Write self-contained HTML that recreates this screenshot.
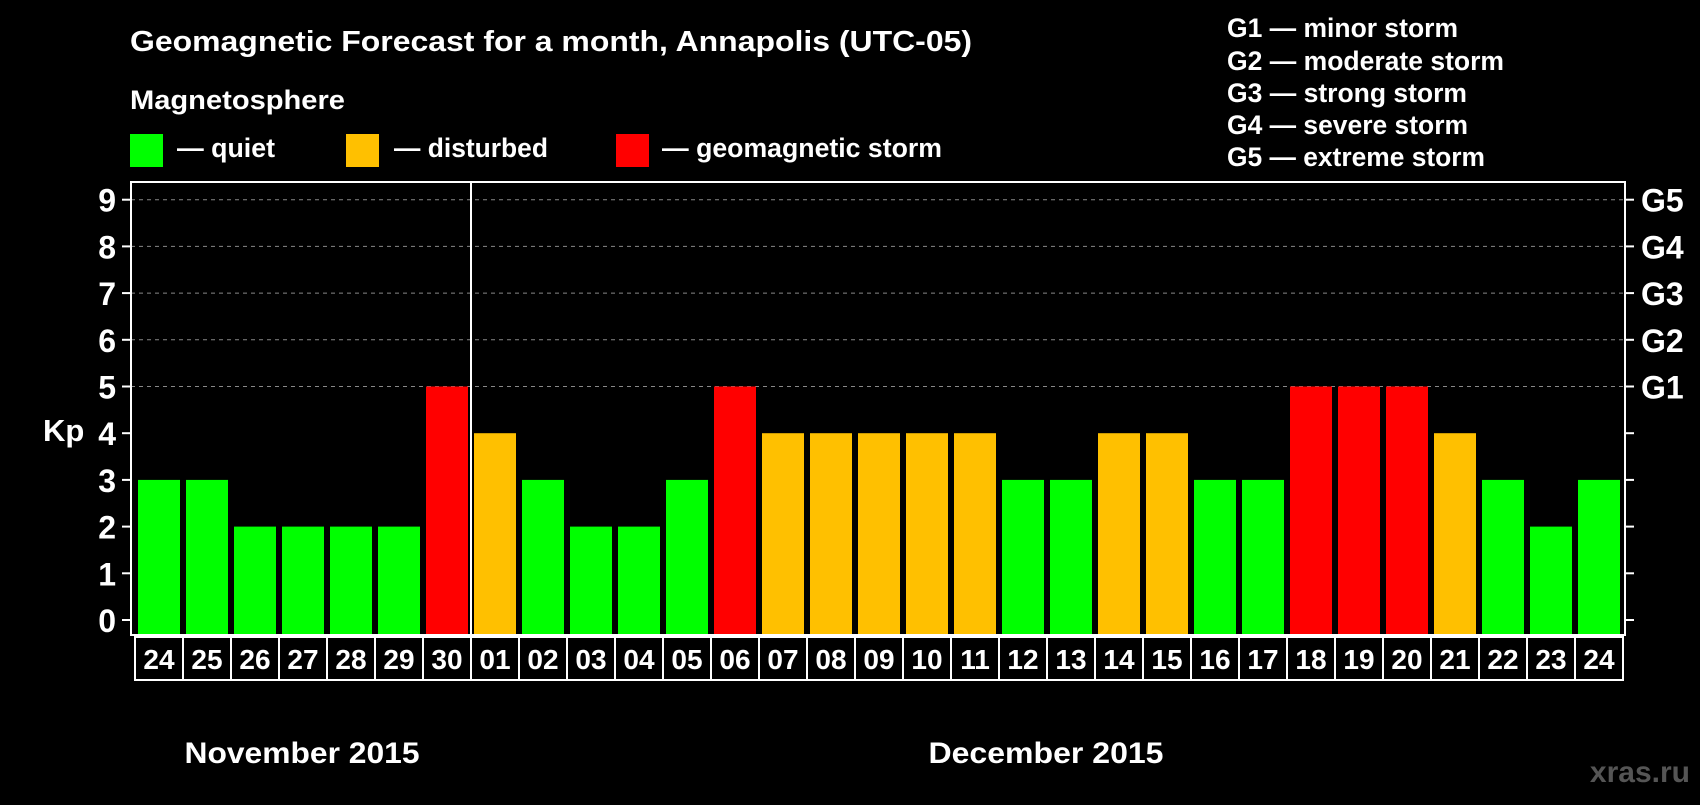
<!DOCTYPE html>
<html><head><meta charset="utf-8"><style>
body{margin:0;background:#000;width:1700px;height:800px;overflow:hidden;font-family:"Liberation Sans",Arial,sans-serif;}
svg text{font-family:"Liberation Sans",Arial,sans-serif;font-weight:bold;fill:#fff;}
</style></head><body>
<svg id="chart" width="1700" height="800" xmlns="http://www.w3.org/2000/svg">
<text x="130" y="51" font-size="29" textLength="842" lengthAdjust="spacingAndGlyphs">Geomagnetic Forecast for a month, Annapolis (UTC-05)</text>
<text x="130" y="109" font-size="27" textLength="215" lengthAdjust="spacingAndGlyphs">Magnetosphere</text>
<g><rect x="130" y="134" width="33" height="33" fill="#00ff00"/><text x="177" y="157" font-size="27" textLength="98" lengthAdjust="spacingAndGlyphs">— quiet</text></g>
<g><rect x="346" y="134" width="33" height="33" fill="#ffc000"/><text x="394" y="157" font-size="27" textLength="154" lengthAdjust="spacingAndGlyphs">— disturbed</text></g>
<g><rect x="616" y="134" width="33" height="33" fill="#ff0000"/><text x="662" y="157" font-size="27" textLength="280" lengthAdjust="spacingAndGlyphs">— geomagnetic storm</text></g>
<g font-size="27">
<text x="1227" y="37" textLength="231" lengthAdjust="spacingAndGlyphs">G1 — minor storm</text>
<text x="1227" y="70" textLength="277" lengthAdjust="spacingAndGlyphs">G2 — moderate storm</text>
<text x="1227" y="102" textLength="240" lengthAdjust="spacingAndGlyphs">G3 — strong storm</text>
<text x="1227" y="134" textLength="241" lengthAdjust="spacingAndGlyphs">G4 — severe storm</text>
<text x="1227" y="166" textLength="258" lengthAdjust="spacingAndGlyphs">G5 — extreme storm</text>
</g>
<g id="grid"></g>
<g id="bars"></g>
<g id="axes"></g>
<text x="43" y="441" font-size="31">Kp</text>
<text x="302" y="763" font-size="30" text-anchor="middle" textLength="235" lengthAdjust="spacingAndGlyphs">November 2015</text>
<text x="1046" y="763" font-size="30" text-anchor="middle" textLength="235" lengthAdjust="spacingAndGlyphs">December 2015</text>
<text x="1690" y="782" font-size="30" text-anchor="end" style="fill:#555">xras.ru</text>
</svg>
<script>
const days=["24","25","26","27","28","29","30","01","02","03","04","05","06","07","08","09","10","11","12","13","14","15","16","17","18","19","20","21","22","23","24"];
const kp=[3,3,2,2,2,2,5,4,3,2,2,3,5,4,4,4,4,4,3,3,4,4,3,3,5,5,5,4,3,2,3];
const yTicks=[0,1,2,3,4,5,6,7,8,9];
const gLabels=["G1","G2","G3","G4","G5"];
const NS="http://www.w3.org/2000/svg";
const L=131,R=1625,T=182,B=635,y0=620,unit=46.7,x0=138,pitch=48,bw=42;
const y=v=>y0-v*unit;
const x=i=>x0+i*pitch;
function mk(tag,attrs,parent){const e=document.createElementNS(NS,tag);for(const k in attrs)e.setAttribute(k,attrs[k]);parent.appendChild(e);return e;}
const grid=document.getElementById('grid'),bars=document.getElementById('bars'),axes=document.getElementById('axes');
for(let v=5;v<=9;v++){const l=mk('line',{x1:L,x2:R,y1:y(v),y2:y(v),stroke:'#888','stroke-width':1,'stroke-dasharray':'4,4'},grid);

}
function color(v){return v>=5?'#ff0000':(v===4?'#ffc000':'#00ff00');}
kp.forEach((v,i)=>{const r=mk('rect',{x:x(i),y:y(v),width:bw,height:B-y(v),fill:color(v)},bars);

});
const box=mk('rect',{x:L,y:T,width:R-L,height:B-T,fill:'none',stroke:'#fff','stroke-width':2},axes);


const sep=mk('line',{x1:x(7)-3,x2:x(7)-3,y1:T,y2:B,stroke:'#fff','stroke-width':2},axes);


yTicks.forEach(v=>{
 mk('line',{x1:L-9,x2:L,y1:y(v),y2:y(v),stroke:'#fff','stroke-width':2},axes);
 mk('line',{x1:R,x2:R+9,y1:y(v),y2:y(v),stroke:'#fff','stroke-width':2},axes);
 const t=mk('text',{x:116,y:y(v)+12,'font-size':32,'text-anchor':'end'},axes);t.textContent=v;
 
 
});
gLabels.forEach((g,i)=>{const t=mk('text',{x:1641,y:y(5+i)+12,'font-size':32},axes);t.textContent=g;

});
days.forEach((d,i)=>{
 const c=mk('rect',{x:x(i)-3,y:637,width:pitch,height:43,fill:'none',stroke:'#fff','stroke-width':2},axes);
 
 
 const t=mk('text',{x:x(i)-3+pitch/2,y:669,'font-size':28,'text-anchor':'middle'},axes);t.textContent=d;
 
 
});
</script>
</body></html>
